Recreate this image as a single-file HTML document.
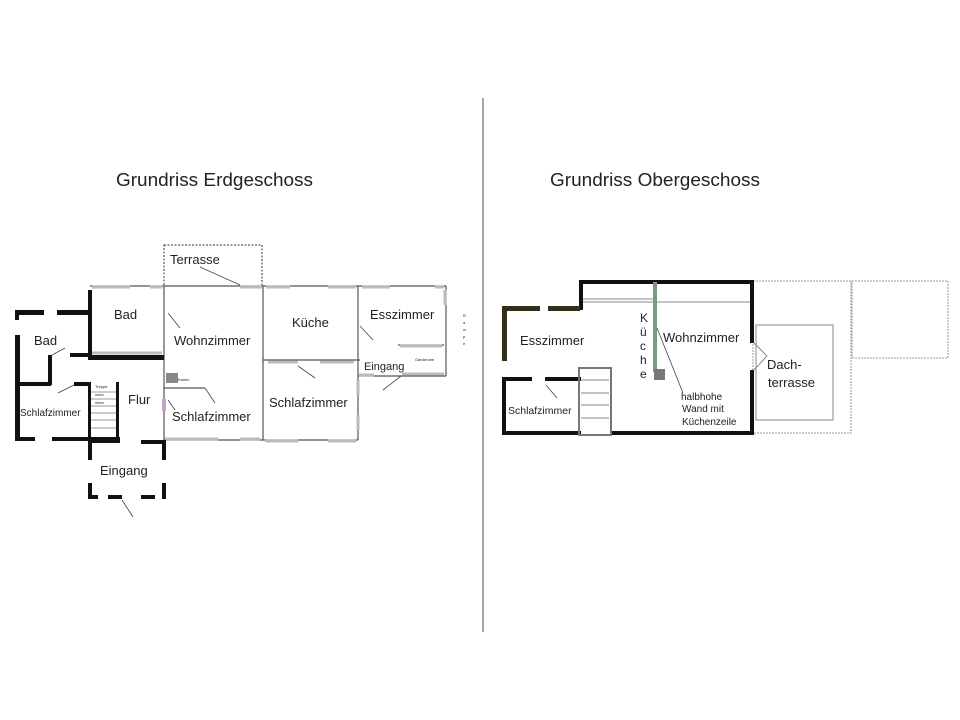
<!DOCTYPE html>
<html><head><meta charset="utf-8"><style>
html,body{margin:0;padding:0;background:#fff;}
svg{display:block;font-family:"Liberation Sans",sans-serif;}
</style></head><body>
<svg width="960" height="720" viewBox="0 0 960 720">
<rect width="960" height="720" fill="#fff"/>
<line x1="483" y1="98" x2="483" y2="632" stroke="#777" stroke-width="1.3"/>
<text x="116" y="186" font-size="18" fill="#222" textLength="197" lengthAdjust="spacingAndGlyphs">Grundriss Erdgeschoss</text>
<text x="550" y="186" font-size="18" fill="#222" textLength="210" lengthAdjust="spacingAndGlyphs">Grundriss Obergeschoss</text>

<!-- LEFT PLAN -->
<rect x="164" y="245" width="98" height="41" fill="none" stroke="#333" stroke-width="1" stroke-dasharray="2,1.5"/>
<g fill="none" stroke="#555" stroke-width="1.2">
<line x1="90" y1="286" x2="446" y2="286"/>
<line x1="164" y1="286" x2="164" y2="440"/>
<line x1="263" y1="286" x2="263" y2="440"/>
<line x1="164" y1="440" x2="358" y2="440"/>
<line x1="358" y1="286" x2="358" y2="440"/>
<line x1="263" y1="360" x2="360" y2="360"/>
<line x1="446" y1="286" x2="446" y2="376"/>
<line x1="358" y1="376" x2="446" y2="376"/>
<line x1="398" y1="345" x2="444" y2="345"/>
<line x1="164" y1="388" x2="205" y2="388"/>
</g>
<g stroke="#bbb" stroke-width="3">
<line x1="92" y1="287" x2="130" y2="287"/><line x1="150" y1="287" x2="162" y2="287"/>
<line x1="240" y1="287" x2="262" y2="287"/><line x1="266" y1="287" x2="290" y2="287"/>
<line x1="328" y1="287" x2="356" y2="287"/><line x1="362" y1="287" x2="390" y2="287"/><line x1="435" y1="287" x2="444" y2="287"/>
<line x1="445" y1="290" x2="445" y2="305"/>
<line x1="92" y1="353" x2="162" y2="353"/>
<line x1="268" y1="362" x2="298" y2="362"/><line x1="320" y1="362" x2="354" y2="362"/>
<line x1="165" y1="439" x2="218" y2="439"/><line x1="240" y1="439" x2="260" y2="439"/>
<line x1="265" y1="441" x2="298" y2="441"/><line x1="328" y1="441" x2="356" y2="441"/>
<line x1="400" y1="346" x2="442" y2="346"/><line x1="402" y1="374" x2="444" y2="374"/>
<line x1="359" y1="375" x2="374" y2="375"/>
<line x1="358" y1="380" x2="358" y2="395"/><line x1="358" y1="415" x2="358" y2="430"/>
</g>
<rect x="166" y="373" width="12" height="10" fill="#888"/>
<rect x="162" y="399" width="4" height="12" fill="#c8a0d0"/>
<g fill="#111">
<rect x="88" y="290" width="4" height="68"/>
<rect x="88" y="355" width="76" height="5"/>
<rect x="70" y="353" width="20" height="4"/>
<rect x="15" y="310" width="29" height="5"/><rect x="57" y="310" width="31" height="5"/>
<rect x="15" y="310" width="4" height="10"/>
<rect x="15" y="335" width="5" height="105"/>
<rect x="48" y="355" width="4" height="30"/>
<rect x="15" y="382" width="36" height="4"/>
<rect x="15" y="437" width="20" height="4"/><rect x="52" y="437" width="68" height="4"/>
<rect x="74" y="382" width="16" height="4"/>
<rect x="88" y="382" width="3" height="58"/>
<rect x="116" y="382" width="3" height="58"/>
<rect x="88" y="437" width="32" height="6"/>
<rect x="88" y="440" width="4" height="20"/>
<rect x="141" y="440" width="24" height="4"/>
<rect x="162" y="440" width="4" height="20"/>
<rect x="88" y="483" width="4" height="16"/><rect x="88" y="495" width="10" height="4"/>
<rect x="108" y="495" width="14" height="4"/><rect x="141" y="495" width="14" height="4"/>
<rect x="162" y="483" width="4" height="16"/>
</g>
<g stroke="#999" stroke-width="1">
<line x1="91" y1="392" x2="116" y2="392"/><line x1="91" y1="399" x2="116" y2="399"/><line x1="91" y1="406" x2="116" y2="406"/>
<line x1="91" y1="413" x2="116" y2="413"/><line x1="91" y1="420" x2="116" y2="420"/><line x1="91" y1="428" x2="116" y2="428"/>
</g>
<g stroke="#444" stroke-width="0.8">
<line x1="200" y1="267" x2="240" y2="285"/><line x1="168" y1="313" x2="180" y2="328"/>
<line x1="205" y1="388" x2="215" y2="403"/><line x1="168" y1="400" x2="175" y2="410"/>
<line x1="298" y1="366" x2="315" y2="378"/><line x1="360" y1="326" x2="373" y2="340"/>
<line x1="383" y1="390" x2="401" y2="376"/><line x1="52" y1="355" x2="65" y2="348"/>
<line x1="58" y1="393" x2="74" y2="385"/><line x1="122" y1="500" x2="133" y2="517"/>
</g>
<g fill="#222">
<text x="170" y="264" font-size="13">Terrasse</text>
<text x="114" y="319" font-size="13">Bad</text>
<text x="34" y="345" font-size="13">Bad</text>
<text x="174" y="345" font-size="13">Wohnzimmer</text>
<text x="292" y="327" font-size="13">Küche</text>
<text x="370" y="319" font-size="13">Esszimmer</text>
<text x="364" y="370" font-size="11">Eingang</text>
<text x="415" y="361" font-size="4">Garderobe</text>
<text x="128" y="404" font-size="13">Flur</text>
<text x="20" y="416" font-size="10">Schlafzimmer</text>
<text x="172" y="421" font-size="13">Schlafzimmer</text>
<text x="269" y="407" font-size="13">Schlafzimmer</text>
<text x="100" y="475" font-size="13">Eingang</text>
<text x="178" y="381" font-size="4">Kamin</text>
<text x="95" y="388" font-size="4">Treppe</text>
<text x="95" y="396" font-size="4">nach</text>
<text x="95" y="404" font-size="4">oben</text>
<text x="463" y="317" font-size="4">R</text><text x="463" y="324" font-size="4">a</text><text x="463" y="331" font-size="4">m</text><text x="463" y="338" font-size="4">p</text><text x="463" y="345" font-size="4">e</text>
</g>

<!-- RIGHT PLAN -->
<g fill="none" stroke="#999" stroke-width="1" stroke-dasharray="2,1">
<rect x="753" y="281" width="98" height="152"/>
<rect x="852" y="281" width="96" height="77"/>
</g>
<rect x="756" y="325" width="77" height="95" fill="none" stroke="#888" stroke-width="1"/>
<g fill="#111">
<rect x="579" y="280" width="175" height="4"/>
<rect x="579" y="280" width="4" height="30"/>
<rect x="750" y="280" width="4" height="63"/>
<rect x="750" y="370" width="4" height="65"/>
<rect x="610" y="431" width="144" height="4"/>
<rect x="502" y="377" width="30" height="4"/><rect x="545" y="377" width="36" height="4"/>
<rect x="502" y="377" width="4" height="58"/>
<rect x="502" y="431" width="79" height="4"/>
</g>
<g fill="#332f1a">
<rect x="502" y="306" width="38" height="5"/><rect x="548" y="306" width="32" height="5"/>
<rect x="502" y="306" width="5" height="55"/>
</g>
<g stroke="#888" stroke-width="1">
<line x1="583" y1="302" x2="750" y2="302"/><line x1="583" y1="299" x2="655" y2="299"/>
<line x1="754" y1="343" x2="767" y2="356"/><line x1="767" y1="356" x2="754" y2="370"/>
</g>
<rect x="579" y="368" width="32" height="67" fill="none" stroke="#777" stroke-width="2"/>
<g stroke="#888" stroke-width="1">
<line x1="581" y1="380" x2="609" y2="380"/><line x1="581" y1="393" x2="609" y2="393"/><line x1="581" y1="405" x2="609" y2="405"/><line x1="581" y1="418" x2="609" y2="418"/>
</g>
<rect x="653" y="282" width="4" height="90" fill="#7a9a80"/>
<rect x="654" y="369" width="11" height="11" fill="#777"/>
<g stroke="#444" stroke-width="0.8">
<line x1="657" y1="328" x2="683" y2="393"/><line x1="546" y1="385" x2="557" y2="398"/>
</g>
<g fill="#222">
<text x="520" y="345" font-size="13">Esszimmer</text>
<text x="663" y="342" font-size="13">Wohnzimmer</text>
<text x="640" y="322" font-size="12">K</text><text x="640" y="336" font-size="12">ü</text><text x="640" y="350" font-size="12">c</text><text x="640" y="364" font-size="12">h</text><text x="640" y="378" font-size="12">e</text>
<text x="767" y="369" font-size="13">Dach-</text>
<text x="768" y="387" font-size="13">terrasse</text>
<text x="681" y="400" font-size="10">halbhohe</text>
<text x="682" y="412" font-size="10">Wand mit</text>
<text x="682" y="425" font-size="10">Küchenzeile</text>
<text x="508" y="414" font-size="10.5">Schlafzimmer</text>
</g>
</svg>
</body></html>
